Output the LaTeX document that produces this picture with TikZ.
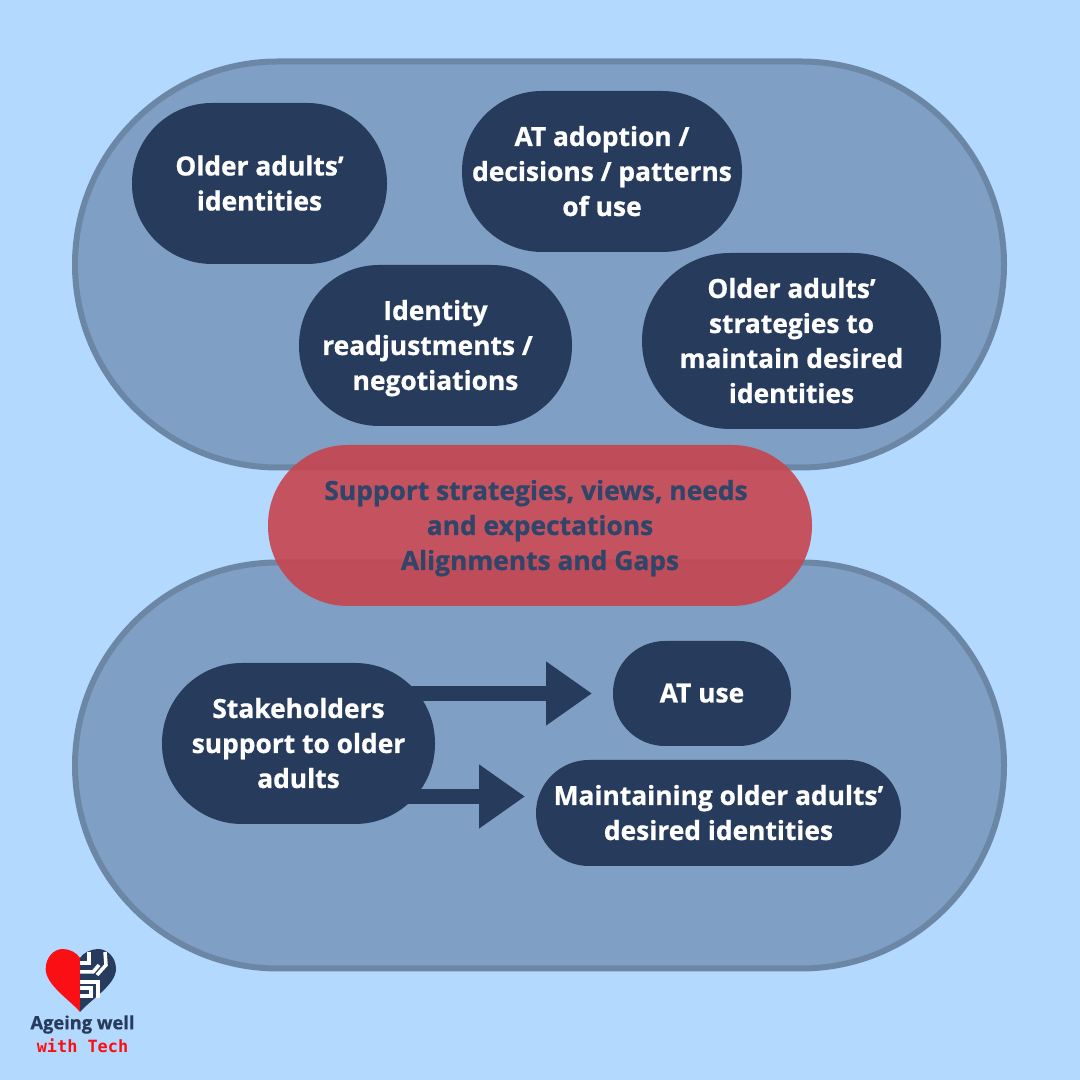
\documentclass[tikz,border=0pt]{standalone}
\usepackage{fontspec}
\setmainfont{Open Sans}[BoldFeatures={FakeBold=0.8}]
\newfontfamily\logomono{DejaVu Sans Mono}
\usepackage {tikz}
\usetikzlibrary{calc}
\usetikzlibrary{arrows.meta}
\definecolor{skyback}{HTML}{B3D9FF}
\definecolor{groupfill}{HTML}{7F9FC4}
\definecolor{groupline}{HTML}{6C87A6}
\definecolor{navy}{HTML}{273C5C}
\definecolor{midred}{HTML}{C7454E}
\definecolor{midtext}{HTML}{2F4569}
\definecolor{logored}{HTML}{FA0F14}
\newcommand{\pilltext}{\fontsize{7.5}{9.96}\selectfont\bfseries}
\tikzset{
    group/.style={draw=groupline, line width=0.06cm, fill=groupfill, rounded corners=2.03cm,
      minimum width=9.29cm, minimum height=4.06cm},
    pill/.style={fill=navy, text=white, align=center, inner sep=0pt, rounded corners=0.8cm,
      minimum height=1.61cm, font=\pilltext, text depth=0.3pt},
    blockarrow/.style={navy, line width=0.15cm,
      -{Triangle[length=0.46cm,width=0.61cm]}},
    circuit/.style={white, line width=0.035cm}
}

\begin{document}
\begin{tikzpicture}
    \useasboundingbox[fill=skyback] (0,0) rectangle (10.8,10.8);
    \node[group] (upper) at (5.395,8.155) {};
    \node[group] (lower) at (5.395,3.145) {};

    \node[pill, minimum width=2.55cm] (identities) at (2.595,8.965)
      {Older adults’\\identities};
    \node[pill, minimum width=2.8cm] (adoption) at (6.02,9.085)
      {AT adoption /\\decisions / patterns\\of use};
    \node[pill, minimum width=2.73cm] (readjust) at (4.355,7.345)
      {Identity\\readjustments /\rule{0.16cm}{0pt}\\negotiations};
    \node[pill, minimum width=2.99cm, minimum height=1.76cm, rounded corners=0.88cm] (strategies) at (7.915,7.39)
      {Older adults’\\strategies to\\maintain desired\\identities};

    \node[pill, fill=midred, fill opacity=0.9, text opacity=1, text=midtext,
      minimum width=5.44cm] (support) at (5.4,5.545)
      {Support strategies, views, needs\rule{0.08cm}{0pt}\\and expectations\\Alignments and Gaps};

    \node[pill, minimum width=2.73cm] (stake) at (2.985,3.365)
      {Stakeholders\\support to older\\adults};
    \node[pill, minimum width=1.78cm, minimum height=1.05cm, rounded corners=0.52cm] (atuse) at (7.02,3.865)
      {AT use};
    \node[pill, minimum width=3.65cm, minimum height=1.06cm, rounded corners=0.53cm] (maintain) at (7.185,2.67)
      {Maintaining older adults’\\desired identities};

    \coordinate (tipA) at (5.92,3.865);
    \coordinate (tipB) at (5.25,2.835);
    \draw[blockarrow] ($(stake.east |- tipA) + (-0.35,0)$) -- (tipA);
    \draw[blockarrow] ($(stake.east |- tipB) + (-0.35,0)$) -- (tipB);

    % logo
    \fill[logored] (0.8,0.68) .. controls (0.7,0.8) and (0.457,0.95) .. (0.457,1.11)
      .. controls (0.457,1.23) and (0.54,1.31) .. (0.627,1.31)
      .. controls (0.7,1.31) and (0.77,1.27) .. (0.8,1.22) -- cycle;
    \fill[navy] (0.8,0.68) .. controls (0.9,0.8) and (1.16,0.95) .. (1.16,1.11)
      .. controls (1.16,1.23) and (1.07,1.31) .. (0.98,1.31)
      .. controls (0.91,1.31) and (0.83,1.27) .. (0.8,1.22) -- cycle;
    \draw[circuit] (0.89,1.28) -- (0.89,1.17) -- (0.8,1.17);
    \draw[circuit] (1.05,1.28) -- (1.06,1.15) -- (0.97,1.05);
    \draw[circuit] (0.8,1.08) -- (0.93,1.08) -- (0.99,1.15);
    \draw[circuit] (0.8,0.98) -- (0.98,0.98) -- (0.98,0.82);
    \draw[circuit] (0.8,0.92) -- (0.91,0.92) -- (0.91,0.84) -- (0.8,0.84);
    \node[inner sep=0pt, text=navy, font=\fontsize{5.2}{7}\selectfont] (logoname) at (0.825,0.555) {\textbf{Ageing well}};
    \node[inner sep=0pt, text=logored, font=\fontsize{4.8}{7}\logomono\bfseries] (logotech) at (0.825,0.345) {with Tech};
\end{tikzpicture}
\end{document}
